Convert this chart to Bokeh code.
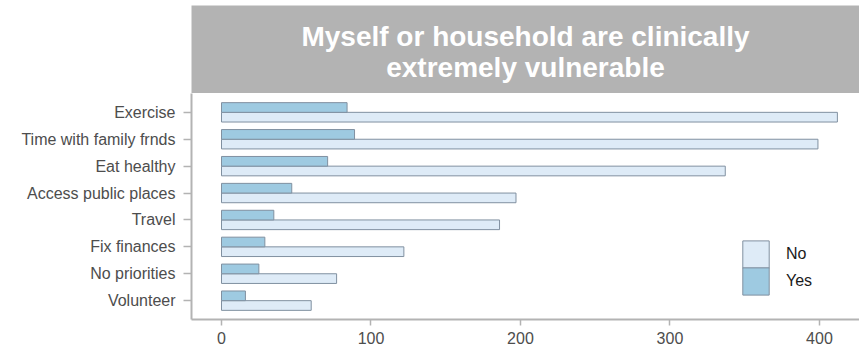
from bokeh.plotting import figure
from bokeh.models import ColumnDataSource, FactorRange, Legend, LegendItem, FixedTicker, Range1d
from bokeh.transform import dodge
from bokeh.layouts import column
from bokeh.core.properties import value
from bokeh.embed import file_html
from bokeh.resources import INLINE

# Priorities after lockdown, respondents where self or household are clinically extremely vulnerable
activities = ["Exercise", "Time with family frnds", "Eat healthy", "Access public places",
              "Travel", "Fix finances", "No priorities", "Volunteer"]
yes_counts = [84, 89, 71, 47, 35, 29, 25, 16]
no_counts = [412, 399, 337, 197, 186, 122, 77, 60]
x_ticks = [0, 100, 200, 300, 400]
title_lines = ["Myself or household are clinically", "extremely vulnerable"]

FONT = "Liberation Sans"
AXIS_GREY = "#B3B3B3"
TEXT_GREY = "#4D4D4D"
BAR_LINE = "#8090A0"
YES_FILL = "#9ECAE1"
NO_FILL = "#DEEBF7"

source = ColumnDataSource(dict(activity=activities, yes=yes_counts, no=no_counts))

# ---- facet strip with the panel title ----
strip = figure(width=859, height=93, x_range=Range1d(0, 1), y_range=Range1d(0, 1),
               output_backend="svg", toolbar_location=None,
               min_border_left=191, min_border_right=0, min_border_top=5, min_border_bottom=0,
               background_fill_color="#B3B3B3", outline_line_color=None)
strip.axis.visible = False
strip.grid.visible = False
strip.text(x=[0.5, 0.5], y=[0.65, 0.29], text=title_lines,
           text_font=value(FONT), text_font_size="28px", text_font_style="bold",
           text_color="white", text_align="center", text_baseline="middle")

# ---- bar panel ----
y_range = FactorRange(factors=activities[::-1], range_padding=0.2, range_padding_units="absolute")
p = figure(width=859, height=262, y_range=y_range, x_range=Range1d(-20.07, 426.8),
           output_backend="svg", toolbar_location=None,
           min_border_left=191, min_border_right=0, min_border_top=0, min_border_bottom=36,
           outline_line_color=None, background_fill_color="white")

no_r = p.hbar(y=dodge("activity", -0.18, range=y_range), right="no", left=0, height=0.36,
              source=source, fill_color=NO_FILL, line_color=BAR_LINE, line_width=1)
yes_r = p.hbar(y=dodge("activity", 0.18, range=y_range), right="yes", left=0, height=0.36,
               source=source, fill_color=YES_FILL, line_color=BAR_LINE, line_width=1)

p.grid.visible = False
p.xaxis.ticker = FixedTicker(ticks=x_ticks)
p.xaxis.minor_tick_line_color = None
for ax in (p.xaxis[0], p.yaxis[0]):
    ax.axis_line_color = AXIS_GREY
    ax.axis_line_width = 2
    ax.major_tick_line_color = AXIS_GREY
    ax.major_tick_line_width = 1.5
    ax.major_tick_in = 0
    ax.major_label_text_font = FONT
    ax.major_label_text_font_size = "16px"
    ax.major_label_text_color = TEXT_GREY
p.xaxis.major_tick_out = 6
p.xaxis.major_label_standoff = 6
p.yaxis.major_tick_out = 8
p.yaxis.major_label_standoff = 8

# one key box per legend so the two swatches sit flush against each other
legend_style = dict(orientation="vertical", glyph_width=33, glyph_height=34, spacing=0,
                    padding=0, margin=0, label_standoff=14, label_text_font=FONT,
                    label_text_font_size="16px", label_text_color="#1A1A1A",
                    border_line_color=None, background_fill_alpha=0)
legend_no = Legend(items=[LegendItem(label="No", renderers=[no_r])],
                   location=(548, 48), **legend_style)
legend_yes = Legend(items=[LegendItem(label="Yes", renderers=[yes_r])],
                    location=(548, 21), **legend_style)
p.add_layout(legend_no)
p.add_layout(legend_yes)

layout = column(strip, p, spacing=0)
open("out.html", "w").write(file_html(layout, INLINE))
